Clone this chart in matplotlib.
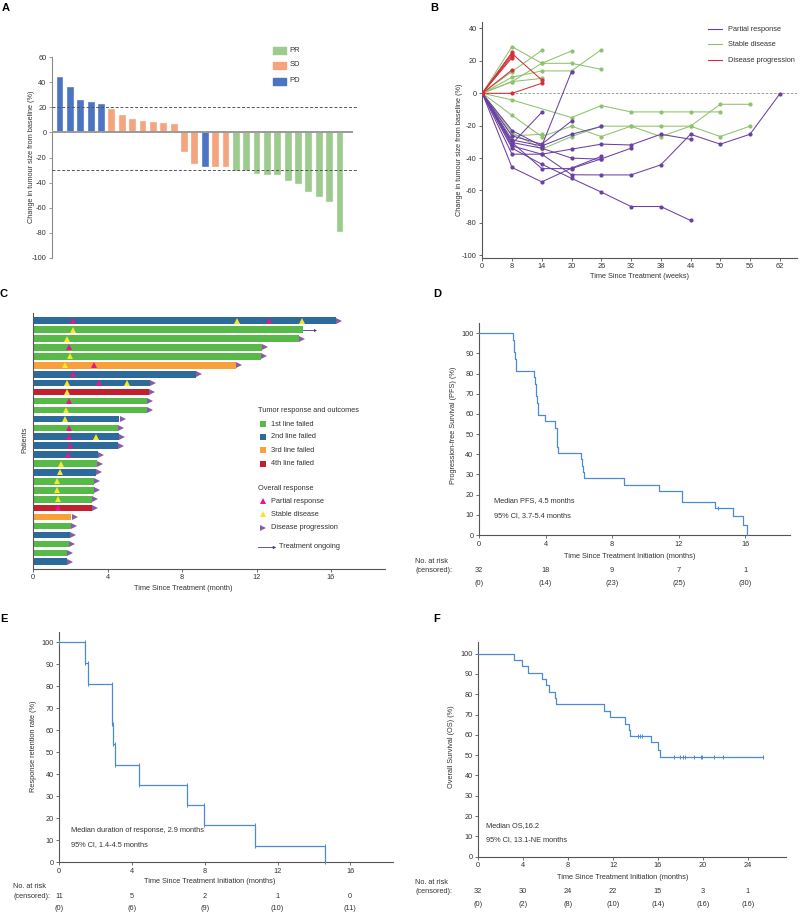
import matplotlib
matplotlib.use('Agg')
import matplotlib.pyplot as plt
import numpy as np
from matplotlib.patches import Rectangle
from matplotlib.lines import Line2D
from matplotlib.transforms import offset_copy, blended_transform_factory

plt.rcParams['font.family'] = ['Liberation Sans', 'DejaVu Sans']
plt.rcParams['axes.unicode_minus'] = False
FS = 5.3
TXT = '#333333'
W, H = 800, 914

# ---------------- DATA ----------------
# Panel A (waterfall)
A_values = [43.9, 36.5, 26.0, 24.3, 22.2, 18.8, 13.5, 10.3, 8.7, 8.2, 7.7, 6.6,
            -15.9, -25.1, -27.5, -27.5, -27.5, -30.7, -30.7, -32.8, -34.1, -34.1,
            -38.4, -40.7, -47.1, -51.1, -55.6, -79.4]
A_resp = ['PD'] * 5 + ['SD'] * 7 + ['SD', 'SD', 'PD', 'SD', 'SD'] + ['PR'] * 11
A_legend = ['PR', 'SD', 'PD']

# Panel B (spider plot): visit index, value
B_weeks = [0, 8, 14, 20, 26, 32, 38, 44, 50, 56, 62]
B_SD = [
    ([0, 1, 2, 3, 4], [0, 28.8, 18.5, 18.5, 14.8]),
    ([0, 1, 2], [0, 13.4, 26.5]),
    ([0, 1, 2, 3], [0, 7.2, 18.5, 26.1]),
    ([0, 1, 2, 3, 4], [0, 9.9, 13.8, 13.8, 26.9]),
    ([0, 1, 2], [0, 7.2, 9.2]),
    ([0, 1, 3, 4, 5, 6, 7, 8], [0, -4.1, -15.0, -7.6, -11.5, -11.5, -11.5, -11.5]),
    ([0, 1, 2, 3, 4, 5, 6, 7, 8, 9], [0, -13.6, -26.7, -20.3, -26.7, -20.3, -26.7, -20.3, -6.8, -6.8]),
    ([0, 1, 2, 3, 4, 5, 6, 7, 8, 9], [0, -24.3, -34.5, -26.7, -20.3, -20.3, -20.3, -20.3, -26.7, -20.3]),
    ([0, 1, 2], [0, -26.3, -25.3]),
]
B_PR = [
    ([0, 1, 2, 3, 4], [0, -45.8, -54.7, -46.2, -39.0]),
    ([0, 1, 2, 3, 4, 5, 6, 7], [0, -37.6, -37.6, -34.5, -31.4, -31.9, -25.3, -28.4]),
    ([0, 1, 2, 3, 4, 5, 6, 7], [0, -33.9, -43.8, -52.5, -61.0, -69.9, -69.9, -78.5]),
    ([0, 1, 2, 3, 4, 5], [0, -30.4, -46.5, -46.5, -40.5, -33.9]),
    ([0, 1, 2, 3, 4, 5, 6, 7, 8, 9, 10], [0, -32.5, -37.6, -50.3, -50.4, -50.4, -44.2, -25.3, -31.4, -25.3, -0.4]),
    ([0, 1, 2], [0, -31.2, -11.7]),
    ([0, 1, 2, 3], [0, -28.8, -32.5, 13.4]),
    ([0, 1, 2, 3], [0, -26.3, -31.4, -17.1]),
    ([0, 1, 2, 3, 4], [0, -23.0, -32.5, -25.3, -20.5]),
    ([0, 1, 2, 3, 4], [0, -30.4, -33.9, -40.0, -40.7]),
]
B_PD = [
    ([0, 1, 2], [0, 24.5, 8.2]),
    ([0, 1, 2], [0, 0, 6.2]),
    ([0, 1], [0, 25.3]),
    ([0, 1], [0, 23.2]),
    ([0, 1], [0, 22.0]),
    ([0, 1], [0, 14.4]),
]
B_legend = ['Partial response', 'Stable disease', 'Disease progression']

# Panel C (swimmer plot), rows top to bottom
C_line = [2, 1, 1, 1, 1, 3, 2, 2, 4, 1, 1, 2, 1, 2, 2, 2, 1, 2, 1, 1, 1, 4, 3, 1, 2, 1, 1, 2]
C_dur = [16.27, 14.48, 14.30, 12.28, 12.24, 10.88, 8.73, 6.27, 6.22, 6.13, 6.10, 4.63, 4.57, 4.59,
         4.54, 3.46, 3.44, 3.37, 3.26, 3.26, 3.16, 3.17, 2.05, 2.01, 1.97, 1.92, 1.83, 1.79]
C_pr = [[2.15, 12.69], [], [], [1.94], [], [3.28], [2.12], [3.53], [], [1.94], [], [], [1.94], [1.94],
        [1.97], [1.88], [], [], [], [], [], [1.33], [], [], [], [], [], []]
C_sd = [[10.97, 14.45], [2.12], [1.83], [], [1.97], [1.70], [], [1.79, 5.02], [1.79], [], [1.76], [1.69],
        [], [3.35], [], [], [1.51], [1.43], [1.29], [1.29], [1.33], [], [], [], [], [], [], []]
C_pd = [True, False] + [True] * 26
C_ongoing = [None, 15.15] + [None] * 26
C_line_labels = ['1st line failed', '2nd line failed', '3rd line failed', '4th line failed']
C_resp_labels = ['Partial response', 'Stable disease', 'Disease progression']

# Panel D (PFS)
D_t = [0, 2.04, 2.08, 2.12, 2.16, 2.20, 2.24, 3.33, 3.37, 3.41, 3.45, 3.49, 3.53, 3.57, 3.97, 4.55,
       4.67, 4.69, 4.71, 4.73, 6.15, 6.20, 6.25, 6.30, 8.74, 10.80, 12.18, 12.22, 14.19, 15.29, 15.90, 16.09]
D_S = [100, 96.9, 93.8, 90.6, 87.5, 84.4, 81.3, 78.1, 75.0, 71.9, 68.8, 65.6, 62.5, 59.4, 56.3, 53.1,
       50.0, 46.9, 43.8, 40.6, 37.5, 34.4, 31.3, 28.1, 25.0, 21.9, 19.1, 16.5, 13.5, 9.5, 5.0, 0]
D_cens_t = [14.39]
D_cens_S = [13.5]
D_risk = [32, 18, 9, 7, 1]
D_cens = [0, 14, 23, 25, 30]
D_risk_t = [0, 4, 8, 12, 16]

# Panel E (DoR)
E_t = [0, 1.41, 1.60, 2.88, 2.90, 2.93, 3.06, 4.40, 7.00, 7.98, 10.77, 14.59]
E_S = [100, 90.5, 81.2, 72.1, 62.7, 53.6, 44.4, 35.2, 25.9, 17.0, 7.6, 0]
E_risk = [11, 5, 2, 1, 0]
E_cens = [0, 6, 9, 10, 11]
E_risk_t = [0, 4, 8, 12, 16]

# Panel F (OS)
F_t = [0, 3.21, 3.86, 4.45, 5.70, 6.00, 6.30, 6.83, 6.92, 11.23, 11.73, 13.07, 13.42, 13.50, 15.36,
       15.98, 16.19, 25.39]
F_S = [100, 96.9, 93.8, 90.6, 87.5, 84.4, 81.3, 78.1, 75.0, 71.9, 68.8, 65.6, 62.5, 59.4, 56.4,
       52.8, 49.3, 49.3]
F_cens_t = [14.26, 14.40, 14.55, 17.43, 17.97, 18.20, 18.41, 19.22, 19.84, 19.96, 21.03, 21.83, 25.39]
F_cens_S = [59.4, 59.4, 59.4, 49.3, 49.3, 49.3, 49.3, 49.3, 49.3, 49.3, 49.3, 49.3, 49.3]
F_risk = [32, 30, 24, 22, 15, 3, 1]
F_cens = [0, 2, 8, 10, 14, 16, 16]
F_risk_t = [0, 4, 8, 12, 16, 20, 24]

# ---------------- STYLE ----------------
cA = {'PR': '#9dcb8e', 'SD': '#f5a47d', 'PD': '#4b74c3'}
cB = {'PR': '#6b40a3', 'SD': '#8ec26c', 'PD': '#d2313b'}
cC = {1: '#57b947', 2: '#2b6a9b', 3: '#f8a13a', 4: '#c41e2f'}
cPR, cSD, cPDt = '#e8168a', '#f5e62a', '#8b5ca5'
cKM = '#4a8ad6'

fig = plt.figure(figsize=(8, 9.14), dpi=100)


def rect(l, r, t, b):
    return [l / W, 1 - b / H, (r - l) / W, (b - t) / H]


def fx(p):
    return p / W


def fy(p):
    return 1 - p / H


def style(ax, spine='#555555'):
    for s in ['top', 'right']:
        ax.spines[s].set_visible(False)
    for s in ['left', 'bottom']:
        ax.spines[s].set_color(spine)
        ax.spines[s].set_linewidth(0.8)
    ax.tick_params(labelsize=FS, labelcolor=TXT, color=spine, length=2.5, width=0.6, pad=1.5)


def ylab(ax, s, px, py):
    ax.set_ylabel(s, fontsize=FS, color=TXT)
    ax.yaxis.label.set_va('center')
    ax.yaxis.set_label_coords(fx(px), fy(py), transform=fig.transFigure)


def xlab(ax, s, px, py):
    ax.set_xlabel(s, fontsize=FS, color=TXT)
    ax.xaxis.label.set_va('center')
    ax.xaxis.set_label_coords(fx(px), fy(py), transform=fig.transFigure)


def ftext(px, py, s, **kw):
    kw.setdefault('fontsize', FS)
    kw.setdefault('color', TXT)
    kw.setdefault('va', 'center')
    fig.text(fx(px), fy(py), s, **kw)


for letter, px, py in [('A', 2, 8), ('B', 430, 8), ('C', 0, 294), ('D', 433, 294), ('E', 0, 619), ('F', 433, 619)]:
    ftext(px, py, letter, fontsize=8, fontweight='bold', color='black')

# ---------------- Panel A ----------------
axA = fig.add_axes(rect(52, 353, 57, 258))
style(axA, '#8a8a8a')
xA = np.arange(len(A_values))
axA.bar(xA, A_values, width=0.66, color=[cA[r] for r in A_resp], edgecolor='#f2f2f2',
        linewidth=0.3, zorder=2)
axA.set_xlim(-0.77, 28.25)
axA.set_ylim(-100, 60)
axA.set_yticks(range(-100, 61, 20))
axA.set_xticks([])
axA.spines['bottom'].set_visible(False)
axA.axhline(0, color='#9a9a9a', lw=1.4, zorder=3)
for yv in [20, -30]:
    axA.plot([0, 1.017], [yv, yv], transform=axA.get_yaxis_transform(), ls=(0, (3, 2)),
             color='#555555', lw=0.7, clip_on=False, zorder=4)
ylab(axA, 'Change in tumour size from baseline (%)', 32, 157)
for i, k in enumerate(A_legend):
    cy = [50, 65, 81][i]
    fig.patches.append(Rectangle((fx(273.3), fy(cy + 3.5)), 12.3 / W, 7 / H, transform=fig.transFigure,
                                 color=cA[k]))
    ftext(289.3, cy, k, fontsize=FS + 0.2)

# ---------------- Panel B ----------------
axB = fig.add_axes(rect(482.3, 796.7, 22.0, 257.7))
style(axB)
axB.set_xlim(0, 10.57)
axB.set_ylim(-101.5, 44)
axB.set_xticks(range(len(B_weeks)))
axB.set_xticklabels([str(w) for w in B_weeks])
axB.set_yticks(range(-100, 41, 20))
axB.axhline(0, color='#8a8a8a', ls=(0, (3, 2)), lw=0.6, zorder=1)
for key, group in [('SD', B_SD), ('PR', B_PR), ('PD', B_PD)]:
    for v, y in group:
        axB.plot(v, y, color=cB[key], lw=0.75, marker='o', ms=2.0, zorder=3)
ylab(axB, 'Change in tumour size from baseline (%)', 459.3, 150)
xlab(axB, 'Time Since Treatment (weeks)', 640, 277)
for i, (lab, key) in enumerate(zip(B_legend, ['PR', 'SD', 'PD'])):
    cy = [29.3, 44, 60][i]
    fig.lines.append(Line2D([fx(708.3), fx(721.7)], [fy(cy), fy(cy)], transform=fig.transFigure,
                            color=cB[key], lw=0.8))
    ftext(728.3, cy, lab)

# ---------------- Panel C ----------------
axC = fig.add_axes(rect(33.3, 385, 313, 568.7))
style(axC)
nC = len(C_dur)
yC = np.arange(nC)
axC.barh(yC, C_dur, height=0.74, color=[cC[l] for l in C_line], zorder=2)
axC.set_ylim(27.78, -0.86)
axC.set_xlim(0, 18.9)
axC.set_xticks([0, 4, 8, 12, 16])
axC.set_yticks([])
tr_pd = offset_copy(axC.transData, fig=fig, x=2.2, y=0, units='points')
for i in range(nC):
    if C_sd[i]:
        axC.plot(C_sd[i], [i] * len(C_sd[i]), ls='none', marker='^', ms=4.3, color=cSD, mew=0, zorder=4)
    if C_pr[i]:
        axC.plot(C_pr[i], [i] * len(C_pr[i]), ls='none', marker='^', ms=4.3, color=cPR, mew=0, zorder=4)
    if C_pd[i]:
        axC.plot([C_dur[i]], [i], ls='none', marker='>', ms=4.3, color=cPDt, mew=0, zorder=4,
                 transform=tr_pd, clip_on=False)
    if C_ongoing[i] is not None:
        axC.plot([C_dur[i], C_ongoing[i]], [i, i], color='#3b3b8c', lw=0.6, zorder=3)
        axC.plot([C_ongoing[i]], [i], ls='none', marker='>', ms=2.2, color='#3b3b8c', mew=0, zorder=3)
ylab(axC, 'Patients', 25, 440)
xlab(axC, 'Time Since Treatment (month)', 183, 588)
ftext(257.7, 410.7, 'Tumor response and outcomes')
for i, lab in enumerate(C_line_labels):
    cy = [424.3, 437, 450.3, 463.7][i]
    fig.lines.append(Line2D([fx(263.3)], [fy(cy)], transform=fig.transFigure, marker='s', ms=3.9,
                            color=cC[i + 1], ls='none', mew=0))
    ftext(271, cy, lab)
ftext(257.7, 488.7, 'Overall response')
for i, lab in enumerate(C_resp_labels):
    cy = [501, 514.3, 527.7][i]
    mk = ['^', '^', '>'][i]
    col = [cPR, cSD, cPDt][i]
    fig.lines.append(Line2D([fx(263.3)], [fy(cy)], transform=fig.transFigure, marker=mk, ms=4.8,
                            color=col, ls='none', mew=0))
    ftext(271, cy, lab)
fig.lines.append(Line2D([fx(257.7), fx(274)], [fy(546.7), fy(546.7)], transform=fig.transFigure,
                        color='#3b3b8c', lw=0.6))
fig.lines.append(Line2D([fx(274)], [fy(546.7)], transform=fig.transFigure, marker='>', ms=2.5,
                        color='#3b3b8c', ls='none', mew=0))
ftext(279, 546.7, 'Treatment ongoing')


# ---------------- KM helper ----------------
def km(ax, t, S, xmax, ymax, xticks, risk_t, risk, cens, y_risk, y_cens, lab_x, lab_y_risk):
    style(ax)
    ax.step(t, S, where='post', color=cKM, lw=0.9, clip_on=False, zorder=3)
    ax.set_xlim(0, xmax)
    ax.set_ylim(0, ymax)
    ax.set_xticks(xticks)
    ax.set_yticks(range(0, 101, 10))
    bt = blended_transform_factory(ax.transData, fig.transFigure)
    for tt, r, c in zip(risk_t, risk, cens):
        ax.text(tt, fy(y_risk), str(r), transform=bt, ha='center', va='center', fontsize=FS, color=TXT)
        ax.text(tt, fy(y_cens), '(%d)' % c, transform=bt, ha='center', va='center', fontsize=FS, color=TXT)
    ftext(lab_x, lab_y_risk, 'No. at risk')
    ftext(lab_x, y_risk, '(censored):')


# ---------------- Panel D ----------------
axD = fig.add_axes(rect(479, 790, 323.2, 535))
km(axD, D_t, D_S, 18.7, 105, [0, 4, 8, 12, 16], D_risk_t, D_risk, D_cens, 570, 583.3, 415, 561.7)
axD.plot(D_cens_t, D_cens_S, ls='none', marker='|', ms=3.5, mew=0.7, color=cKM, zorder=4)
ylab(axD, 'Progression-free Survival (PFS) (%)', 453.3, 425)
xlab(axD, 'Time Since Treatment Initiation (months)', 630, 556)
ftext(494, 501, 'Median PFS, 4.5 months')
ftext(494, 515.3, '95% CI, 3.7-5.4 months')

# ---------------- Panel E ----------------
axE = fig.add_axes(rect(59.3, 393, 631.7, 862.3))
km(axE, E_t, E_S, 18.35, 104.8, [0, 4, 8, 12, 16], E_risk_t, E_risk, E_cens, 896, 909, 13, 886.7)
cx = [E_t[0]]
cy_ = [E_S[0]]
for i in range(1, len(E_t)):
    cx += [E_t[i], E_t[i]]
    cy_ += [E_S[i - 1], E_S[i]]
axE.plot(cx, cy_, ls='none', marker='|', ms=3.5, mew=0.7, color=cKM, zorder=4, clip_on=False)
ylab(axE, 'Response retention rate (%)', 33.3, 746)
xlab(axE, 'Time Since Treatment Initiation (months)', 210, 881.7)
ftext(71, 831, 'Median duration of response, 2.9 months')
ftext(71, 845, '95% CI, 1.4-4.5 months')

# ---------------- Panel F ----------------
axF = fig.add_axes(rect(478.3, 786, 641.7, 856.7))
km(axF, F_t, F_S, 27.4, 105.9, [0, 4, 8, 12, 16, 20, 24], F_risk_t, F_risk, F_cens, 891.7, 904.3, 415, 882.7)
axF.plot(F_cens_t, F_cens_S, ls='none', marker='|', ms=3.5, mew=0.7, color=cKM, zorder=4)
ylab(axF, 'Overall Survival (OS) (%)', 451.7, 747)
xlab(axF, 'Time Since Treatment Initiation (months)', 622.7, 877.7)
ftext(486, 826, 'Median OS,16.2')
ftext(486, 840, '95% CI, 13.1-NE months')

fig.savefig('out.png', dpi=100)
